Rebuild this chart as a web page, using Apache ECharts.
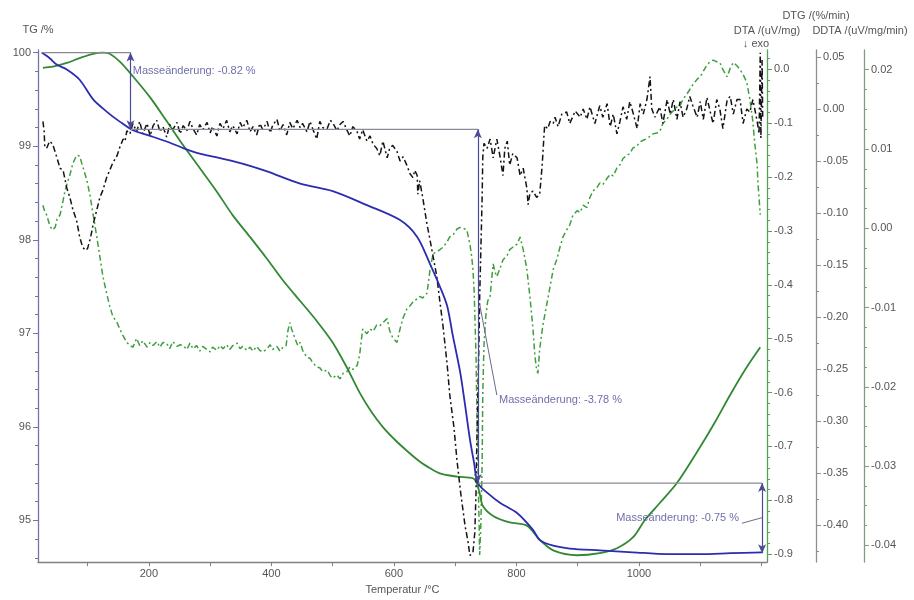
<!DOCTYPE html>
<html>
<head>
<meta charset="utf-8">
<script src="https://cdn.jsdelivr.net/npm/echarts@6/dist/echarts.min.js"></script>
<style>
html,body{margin:0;padding:0;background:#fff}
#chart{width:914px;height:600px}
</style>
</head>
<body>
<div id="chart"></div>
<script>
// ---- tick values ----
const tempTicks = [100, 200, 300, 400, 500, 600, 700, 800, 900, 1000, 1100, 1200];
const tempLabels = [200, 400, 600, 800, 1000];
const tgLabels = [95, 96, 97, 98, 99, 100];
const dtaLabels = [0.0, -0.1, -0.2, -0.3, -0.4, -0.5, -0.6, -0.7, -0.8, -0.9];
const dtgLabels = [0.05, 0.00, -0.05, -0.10, -0.15, -0.20, -0.25, -0.30, -0.35, -0.40];
const ddtaLabels = [0.02, 0.01, 0.00, -0.01, -0.02, -0.03, -0.04];

// ---- TG /% vs temperature (°C) ----
const tgCurve = [
  [25, 100.00], [38, 99.94], [50, 99.87], [66, 99.82], [87, 99.71], [109, 99.50],
  [131, 99.37], [153, 99.26], [174, 99.17], [202, 99.11], [229, 99.05], [256, 98.98],
  [283, 98.92], [311, 98.88], [337, 98.84], [365, 98.79], [393, 98.73], [447, 98.60],
  [500, 98.52], [556, 98.37], [610, 98.21], [638, 98.03], [659, 97.74], [675, 97.50],
  [687, 97.29], [696, 96.98], [708, 96.59], [716, 96.24], [724, 95.87], [731, 95.61],
  [737, 95.40], [757, 95.27], [773, 95.19], [801, 95.08], [827, 94.90], [838, 94.79],
  [860, 94.73], [887, 94.70], [936, 94.68], [990, 94.66], [1046, 94.64], [1100, 94.64],
  [1149, 94.65], [1201, 94.66]
];

// ---- DTA /(uV/mg) ----
const dtaCurve = [
  [27, 0.003], [43, 0.005], [66, 0.012], [87, 0.021], [109, 0.029], [125, 0.031],
  [136, 0.029], [153, 0.014], [174, -0.013], [202, -0.052], [229, -0.096], [256, -0.141],
  [283, -0.183], [311, -0.227], [337, -0.271], [365, -0.311], [393, -0.352], [419, -0.392],
  [447, -0.430], [474, -0.467], [500, -0.507], [523, -0.553], [544, -0.600], [564, -0.637],
  [582, -0.664], [602, -0.688], [621, -0.708], [642, -0.728], [654, -0.737], [675, -0.750],
  [703, -0.756], [729, -0.759], [735, -0.768], [740, -0.787], [745, -0.810], [762, -0.829],
  [789, -0.841], [817, -0.847], [838, -0.873], [860, -0.893], [899, -0.902], [936, -0.898],
  [964, -0.889], [990, -0.869], [1010, -0.836], [1034, -0.805], [1062, -0.768], [1095, -0.710],
  [1124, -0.655], [1149, -0.604], [1173, -0.558], [1198, -0.516]
];

// ---- DTG /(%/min) ----
const dtgCurve = [
  [27, -0.012], [29, -0.021], [30, -0.036], [33, -0.038], [38, -0.031], [43, -0.034],
  [50, -0.047], [55, -0.057], [60, -0.059], [66, -0.076], [71, -0.085], [76, -0.097],
  [82, -0.107], [87, -0.123], [92, -0.133], [97, -0.136], [100, -0.134], [105, -0.123],
  [109, -0.111], [115, -0.097], [120, -0.085], [125, -0.078], [131, -0.066], [136, -0.059],
  [141, -0.052], [148, -0.045], [153, -0.036], [158, -0.029], [161, -0.031], [164, -0.021],
  [169, -0.024], [174, -0.014], [180, -0.022], [185, -0.012], [190, -0.024], [197, -0.014],
  [202, -0.026], [207, -0.016], [213, -0.011], [218, -0.022], [223, -0.017], [229, -0.027],
  [234, -0.015], [239, -0.020], [246, -0.013], [251, -0.024], [256, -0.016], [262, -0.021],
  [267, -0.012], [272, -0.019], [278, -0.025], [283, -0.015], [288, -0.020], [295, -0.013],
  [300, -0.023], [304, -0.017], [311, -0.026], [316, -0.014], [321, -0.019], [327, -0.011],
  [332, -0.022], [337, -0.016], [344, -0.024], [349, -0.013], [353, -0.018], [360, -0.011],
  [365, -0.022], [370, -0.017], [376, -0.025], [381, -0.014], [386, -0.020], [393, -0.012],
  [398, -0.023], [402, -0.016], [409, -0.010], [414, -0.021], [419, -0.015], [425, -0.025],
  [430, -0.013], [435, -0.019], [442, -0.011], [447, -0.018], [451, -0.014], [458, -0.022],
  [463, -0.012], [468, -0.020], [474, -0.029], [479, -0.012], [484, -0.018], [491, -0.019],
  [496, -0.011], [500, -0.013], [507, -0.021], [512, -0.015], [517, -0.012], [523, -0.020],
  [528, -0.026], [533, -0.017], [540, -0.022], [544, -0.029], [549, -0.020], [556, -0.031],
  [561, -0.026], [566, -0.034], [572, -0.038], [577, -0.045], [582, -0.031], [589, -0.047],
  [593, -0.038], [598, -0.035], [605, -0.041], [610, -0.050], [615, -0.046], [621, -0.054],
  [626, -0.062], [631, -0.066], [634, -0.059], [638, -0.064], [639, -0.082], [642, -0.069],
  [647, -0.085], [654, -0.111], [659, -0.126], [664, -0.142], [670, -0.161], [675, -0.185],
  [680, -0.208], [687, -0.246], [691, -0.274], [698, -0.306], [703, -0.338], [709, -0.369],
  [716, -0.400], [721, -0.416], [724, -0.429], [729, -0.426], [732, -0.407], [734, -0.369],
  [735, -0.331], [737, -0.274], [739, -0.218], [740, -0.180], [742, -0.133], [744, -0.085],
  [745, -0.047], [747, -0.033], [752, -0.038], [757, -0.029], [762, -0.047], [768, -0.029],
  [773, -0.045], [778, -0.064], [781, -0.038], [785, -0.031], [789, -0.054], [794, -0.043],
  [801, -0.047], [806, -0.064], [811, -0.057], [817, -0.076], [819, -0.092], [822, -0.081],
  [827, -0.079], [833, -0.085], [838, -0.082], [842, -0.054], [846, -0.016], [851, -0.019],
  [855, -0.012], [860, -0.014], [863, -0.008], [868, -0.017], [874, -0.005], [882, -0.003],
  [887, -0.014], [896, -0.002], [904, -0.008], [909, 0.000], [915, -0.010], [920, 0.002],
  [928, -0.014], [936, 0.003], [941, -0.008], [948, 0.005], [953, -0.017], [958, -0.005],
  [964, -0.024], [969, -0.012], [974, 0.002], [980, -0.010], [985, 0.007], [990, -0.003],
  [997, -0.019], [1002, 0.005], [1007, -0.005], [1013, 0.009], [1018, 0.031], [1021, 0.000],
  [1026, -0.008], [1034, 0.002], [1039, -0.014], [1046, 0.009], [1051, -0.005], [1056, 0.009],
  [1062, -0.010], [1067, 0.007], [1072, -0.008], [1078, 0.000], [1083, 0.012], [1088, 0.003],
  [1095, -0.008], [1100, 0.007], [1105, -0.010], [1111, 0.011], [1116, -0.002], [1121, -0.014],
  [1127, 0.009], [1132, 0.000], [1137, -0.019], [1144, 0.009], [1149, 0.012], [1154, -0.005],
  [1160, 0.009], [1165, 0.009], [1170, -0.014], [1176, 0.000], [1181, -0.003], [1186, 0.009],
  [1193, -0.012], [1196, -0.024], [1198, 0.054], [1199, -0.028], [1201, 0.047], [1202, -0.010]
];

// ---- DDTA /(uV/mg/min) ----
const ddtaCurve = [
  [27, 0.0029], [30, 0.0021], [33, 0.0017], [38, 0.0004], [42, -0.0002], [47, 0.0001],
  [50, 0.0011], [55, 0.0017], [60, 0.0035], [63, 0.0047], [68, 0.0060], [71, 0.0067],
  [76, 0.0082], [82, 0.0092], [87, 0.0091], [92, 0.0078], [99, 0.0060], [104, 0.0041],
  [109, 0.0017], [115, -0.0011], [120, -0.0036], [125, -0.0061], [131, -0.0082], [136, -0.0098],
  [141, -0.0111], [148, -0.0119], [156, -0.0133], [164, -0.0144], [169, -0.0148], [174, -0.0150],
  [180, -0.0139], [185, -0.0148], [190, -0.0142], [197, -0.0150], [202, -0.0144], [207, -0.0148],
  [213, -0.0143], [218, -0.0150], [223, -0.0144], [229, -0.0145], [234, -0.0152], [239, -0.0143],
  [246, -0.0149], [251, -0.0147], [256, -0.0148], [262, -0.0153], [267, -0.0145], [272, -0.0152],
  [278, -0.0148], [283, -0.0155], [288, -0.0149], [295, -0.0153], [300, -0.0156], [304, -0.0150],
  [311, -0.0154], [316, -0.0148], [321, -0.0152], [327, -0.0147], [332, -0.0153], [337, -0.0148],
  [344, -0.0145], [349, -0.0152], [353, -0.0149], [360, -0.0154], [365, -0.0150], [370, -0.0155],
  [376, -0.0149], [381, -0.0154], [386, -0.0156], [393, -0.0152], [398, -0.0147], [402, -0.0153],
  [409, -0.0149], [414, -0.0155], [419, -0.0150], [424, -0.0148], [427, -0.0129], [430, -0.0119],
  [433, -0.0127], [438, -0.0138], [443, -0.0148], [447, -0.0144], [451, -0.0154], [458, -0.0163],
  [463, -0.0164], [468, -0.0170], [474, -0.0175], [479, -0.0176], [484, -0.0181], [491, -0.0179],
  [496, -0.0186], [500, -0.0189], [507, -0.0185], [512, -0.0190], [517, -0.0183], [523, -0.0181],
  [528, -0.0175], [533, -0.0178], [540, -0.0173], [544, -0.0160], [549, -0.0127], [556, -0.0133],
  [561, -0.0127], [566, -0.0130], [572, -0.0122], [577, -0.0123], [582, -0.0119], [589, -0.0114],
  [593, -0.0129], [598, -0.0138], [605, -0.0144], [610, -0.0127], [615, -0.0113], [621, -0.0102],
  [626, -0.0098], [631, -0.0093], [638, -0.0089], [642, -0.0086], [647, -0.0088], [654, -0.0082],
  [659, -0.0052], [664, -0.0032], [670, -0.0030], [675, -0.0027], [680, -0.0024], [687, -0.0017],
  [691, -0.0011], [696, -0.0009], [703, -0.0001], [708, 0.0001], [713, 0.0000], [719, -0.0002],
  [724, -0.0020], [727, -0.0036], [729, -0.0052], [731, -0.0080], [732, -0.0107], [734, -0.0160],
  [735, -0.0210], [737, -0.0297], [739, -0.0371], [740, -0.0412], [742, -0.0371], [744, -0.0297],
  [745, -0.0210], [747, -0.0148], [750, -0.0111], [753, -0.0092], [757, -0.0086], [760, -0.0061],
  [762, -0.0045], [765, -0.0055], [768, -0.0061], [773, -0.0051], [778, -0.0040], [785, -0.0034],
  [789, -0.0027], [794, -0.0024], [801, -0.0020], [806, -0.0011], [811, -0.0027], [814, -0.0039],
  [817, -0.0052], [822, -0.0086], [827, -0.0127], [830, -0.0160], [833, -0.0179], [835, -0.0183],
  [838, -0.0152], [843, -0.0123], [850, -0.0094], [855, -0.0073], [860, -0.0052], [866, -0.0039],
  [871, -0.0024], [876, -0.0011], [882, -0.0002], [887, 0.0004], [892, 0.0016], [899, 0.0022],
  [904, 0.0020], [909, 0.0029], [915, 0.0026], [920, 0.0039], [925, 0.0047], [931, 0.0051],
  [936, 0.0057], [941, 0.0055], [948, 0.0063], [953, 0.0068], [958, 0.0066], [964, 0.0076],
  [969, 0.0080], [974, 0.0088], [980, 0.0092], [985, 0.0094], [990, 0.0101], [997, 0.0104],
  [1002, 0.0109], [1007, 0.0111], [1013, 0.0113], [1018, 0.0116], [1023, 0.0119], [1029, 0.0120],
  [1034, 0.0122], [1039, 0.0132], [1046, 0.0138], [1051, 0.0144], [1056, 0.0148], [1062, 0.0153],
  [1067, 0.0154], [1072, 0.0163], [1078, 0.0169], [1083, 0.0175], [1088, 0.0181], [1095, 0.0188],
  [1100, 0.0191], [1105, 0.0198], [1111, 0.0206], [1116, 0.0210], [1121, 0.0212], [1127, 0.0210],
  [1132, 0.0209], [1137, 0.0200], [1144, 0.0191], [1149, 0.0202], [1154, 0.0209], [1160, 0.0205],
  [1165, 0.0200], [1170, 0.0194], [1176, 0.0184], [1181, 0.0163], [1186, 0.0134], [1189, 0.0107],
  [1193, 0.0080], [1194, 0.0060], [1198, 0.0017]
];

// ---- mass-change evaluation (TG levels and where each step is measured) ----
const stepLevels = [100.00, 99.18, 95.40, 94.65];
const stepTemps = [25, 170, 737, 1201];
const stepTexts = ['Masseänderung: -0.82 %', 'Masseänderung: -3.78 %', 'Masseänderung: -0.75 %'];

// helper: evenly spaced minor tick values between two bounds
function tickRange(lo, hi, step) {
  const out = [];
  const n = Math.round((hi - lo) / step);
  for (let i = 0; i <= n; i++) out.push(+(lo + i * step).toFixed(6));
  return out;
}

const FONT = '"Liberation Sans", Arial, sans-serif';
const LABEL_COLOR = '#555';
const ANNO_COLOR = '#4a4a96';
const LEVEL_COLOR = '#8a8a96';

// axis extents (y runs from grid top to grid bottom)
const X_RANGE = [19, 1209];
const TG_RANGE = [94.555, 100.028];
const DTA_RANGE = [-0.9147, 0.036];
const DTG_RANGE = [-0.4354, 0.0566];
const DDTA_RANGE = [-0.04211, 0.02248];

function valueAxis(opts) {
  return Object.assign({
    type: 'value',
    splitLine: { show: false },
    axisLine: { show: true, onZero: false, lineStyle: { color: opts.lineColor, width: 1.3 } },
    axisTick: { show: true, customValues: opts.ticks, length: 5, lineStyle: { color: opts.lineColor } },
    axisLabel: {
      customValues: opts.ticks, color: LABEL_COLOR, fontSize: 11, fontFamily: FONT,
      margin: 7, formatter: opts.fmt
    }
  }, opts.extra);
}

function minorAxis(range, position, offset, ticks, color) {
  return {
    type: 'value', min: range[0], max: range[1], position: position, offset: offset,
    splitLine: { show: false },
    axisLine: { show: false },
    axisLabel: { show: false },
    axisTick: { show: true, customValues: ticks, length: 3, lineStyle: { color: color } }
  };
}

const tgLine = '#7474a8', dtaLine = '#58a058', dtgLine = '#8e8e8e', ddtaLine = '#849a84';

const yAxes = [
  valueAxis({ lineColor: tgLine, ticks: tgLabels, fmt: v => String(v), extra: {
    min: TG_RANGE[0], max: TG_RANGE[1], position: 'left', offset: 0,
    name: 'TG /%', nameLocation: 'end', nameGap: 15,
    nameTextStyle: { color: LABEL_COLOR, fontSize: 11, fontFamily: FONT }
  }}),
  valueAxis({ lineColor: dtaLine, ticks: dtaLabels, fmt: v => v.toFixed(1), extra: {
    min: DTA_RANGE[0], max: DTA_RANGE[1], position: 'right', offset: 0,
    name: '{t|DTA /(uV/mg)}\n{e|↓ exo}', nameLocation: 'end', nameGap: 0,
    nameTextStyle: { color: LABEL_COLOR, fontSize: 11, fontFamily: FONT,
      rich: { t: { fontSize: 11, fontFamily: FONT, color: LABEL_COLOR, lineHeight: 13 },
              e: { fontSize: 11, fontFamily: FONT, color: LABEL_COLOR, lineHeight: 13, padding: [0, 22, 0, 0] } } }
  }}),
  valueAxis({ lineColor: dtgLine, ticks: dtgLabels, fmt: v => v.toFixed(2), extra: {
    min: DTG_RANGE[0], max: DTG_RANGE[1], position: 'right', offset: 49,
    name: 'DTG /(%/min)', nameLocation: 'end', nameGap: 29,
    nameTextStyle: { color: LABEL_COLOR, fontSize: 11, fontFamily: FONT }
  }}),
  valueAxis({ lineColor: ddtaLine, ticks: ddtaLabels, fmt: v => v.toFixed(2), extra: {
    min: DDTA_RANGE[0], max: DDTA_RANGE[1], position: 'right', offset: 97,
    name: 'DDTA /(uV/mg/min)', nameLocation: 'end', nameGap: 14,
    nameTextStyle: { color: LABEL_COLOR, fontSize: 11, fontFamily: FONT, padding: [0, 0, 0, -8] }
  }}),
  minorAxis(TG_RANGE, 'left', 0, tickRange(94.6, 100, 0.2), tgLine),
  minorAxis(DTA_RANGE, 'right', 0, tickRange(-0.9, 0.02, 0.02), dtaLine),
  minorAxis(DTG_RANGE, 'right', 49, tickRange(-0.425, 0.05, 0.025), dtgLine),
  minorAxis(DDTA_RANGE, 'right', 97, tickRange(-0.04, 0.02, 0.0025), ddtaLine)
];

// annotation series: level lines, step arrows, leader lines and texts (all in TG units)
const annoSeries = [];
function segment(points, color, width) {
  annoSeries.push({
    type: 'line', xAxisIndex: 0, yAxisIndex: 0, data: points, symbol: 'none', silent: true,
    lineStyle: { color: color, width: width || 1.2 }, z: 4
  });
}
for (let i = 0; i < 3; i++) {
  segment([[stepTemps[i], stepLevels[i]], [stepTemps[i + 1], stepLevels[i]]], LEVEL_COLOR);
}
annoSeries.push({
  type: 'line', xAxisIndex: 0, yAxisIndex: 0, data: [], silent: true, z: 5,
  markLine: {
    silent: true, symbol: ['arrow', 'arrow'], symbolSize: [6, 9], label: { show: false },
    lineStyle: { color: ANNO_COLOR, width: 1.2, type: 'solid' },
    data: [0, 1, 2].map(i => [
      { coord: [stepTemps[i + 1], stepLevels[i]] },
      { coord: [stepTemps[i + 1], stepLevels[i + 1]] }
    ])
  }
});
// leader lines from the step arrows to their texts
segment([[740, 97.31], [768, 96.34]], '#6a6a8a', 1);
segment([[1168, 94.97], [1201, 95.03]], '#6a6a8a', 1);
annoSeries.push({
  type: 'scatter', xAxisIndex: 0, yAxisIndex: 0, symbolSize: 0, silent: true, z: 6,
  data: [
    { value: [172, 99.80], label: { position: 'right', formatter: stepTexts[0] } },
    { value: [770, 96.29], label: { position: 'right', formatter: stepTexts[1] } },
    { value: [1165, 95.03], label: { position: 'left', formatter: stepTexts[2] } }
  ],
  label: { show: true, distance: 1, color: ANNO_COLOR, fontSize: 11, fontFamily: FONT }
});

const option = {
  animation: false,
  backgroundColor: '#ffffff',
  grid: { left: 38, right: 147, top: 50, bottom: 30, containLabel: false },
  xAxis: [{
    type: 'value', min: X_RANGE[0], max: X_RANGE[1],
    splitLine: { show: false },
    axisLine: { show: true, onZero: false, lineStyle: { color: '#808080', width: 1.3 } },
    axisTick: { show: true, customValues: tempTicks, length: 4, lineStyle: { color: '#808080' } },
    axisLabel: { customValues: tempLabels, color: LABEL_COLOR, fontSize: 11, fontFamily: FONT, margin: 6,
      formatter: v => String(v) },
    name: 'Temperatur /°C', nameLocation: 'middle', nameGap: 21,
    nameTextStyle: { color: LABEL_COLOR, fontSize: 11, fontFamily: FONT }
  }],
  yAxis: yAxes,
  series: [
    {
      name: 'DDTA', type: 'line', xAxisIndex: 0, yAxisIndex: 3, data: ddtaCurve, symbol: 'none',
      lineStyle: { color: '#3f9f3f', width: 1.5, type: [6, 3, 2, 3] }, z: 2
    },
    {
      name: 'DTA', type: 'line', xAxisIndex: 0, yAxisIndex: 1, data: dtaCurve, symbol: 'none',
      smooth: 0.3, lineStyle: { color: '#338833', width: 1.8 }, z: 3
    },
    {
      name: 'DTG', type: 'line', xAxisIndex: 0, yAxisIndex: 2, data: dtgCurve, symbol: 'none',
      lineStyle: { color: '#141414', width: 1.5, type: [6, 3, 2, 3] }, z: 3
    },
    {
      name: 'TG', type: 'line', xAxisIndex: 0, yAxisIndex: 0, data: tgCurve, symbol: 'none',
      smooth: 0.3, lineStyle: { color: '#2c2cb0', width: 1.8 }, z: 4
    }
  ].concat(annoSeries)
};

const chart = echarts.init(document.getElementById('chart'), null, { renderer: 'canvas' });
chart.setOption(option);
</script>
</body>
</html>
